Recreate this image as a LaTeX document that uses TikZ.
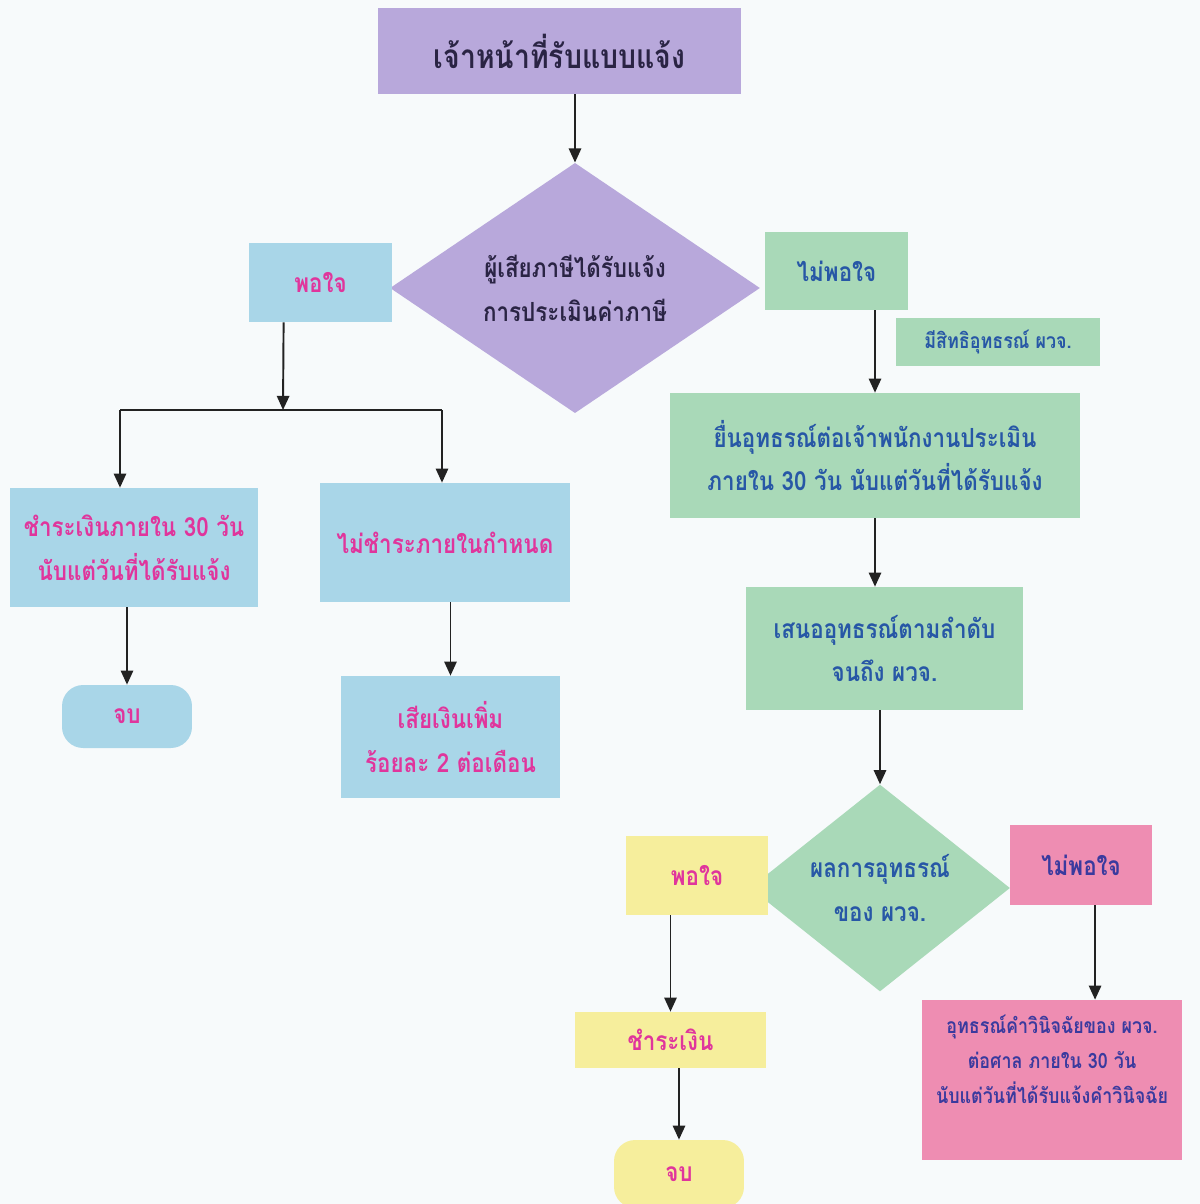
\documentclass[tikz,border=0pt]{standalone}
\usepackage{fontspec}
\newfontfamily\thaifont[Script=Thai,FakeStretch=0.85]{Loma}
\usetikzlibrary{shapes.geometric,arrows.meta}

\definecolor{paper}{HTML}{F7FAFB}
\definecolor{lavender}{HTML}{B8A8DB}
\definecolor{skyblue}{HTML}{A9D6E8}
\definecolor{mint}{HTML}{A9D9B8}
\definecolor{lemon}{HTML}{F6EE9C}
\definecolor{rose}{HTML}{EE8DB2}
\definecolor{inkpink}{HTML}{E0359C}
\definecolor{inkblue}{HTML}{2757A6}
\definecolor{inkdark}{HTML}{2A2444}
\definecolor{inkviolet}{HTML}{3A3A9E}
\definecolor{wire}{HTML}{222222}

\begin{document}
\begin{tikzpicture}[x=0.02cm,y=-0.02cm,>={Triangle[width=7pt,length=8pt]}]
        \tikzstyle{box}=[rectangle,inner sep=2pt,align=center,font={\thaifont\bfseries\fontsize{15}{25}\selectfont}]
        \tikzstyle{small}=[box,font={\thaifont\bfseries\fontsize{12}{20}\selectfont}]
        \tikzstyle{decision}=[diamond,inner sep=0pt,align=center,font={\thaifont\bfseries\fontsize{15}{25}\selectfont}]
        \tikzstyle{terminal}=[box,rounded corners=12pt]
        \tikzstyle{link}=[line width=1.1pt,draw=wire]
        \fill[paper] (0,0) rectangle (1200,1204);
        \useasboundingbox (0,0) rectangle (1200,1204);

        \node[box,fill=lavender,text=inkdark,minimum width=7.26cm,minimum height=1.72cm,font={\thaifont\bfseries\fontsize{19}{25}\selectfont}] (staff) at (559.5,51) {เจ้าหน้าที่รับแบบแจ้ง};
        \node[decision,fill=lavender,text=inkdark,minimum width=7.4cm,minimum height=4.7cm] (notice) at (575,288) {ผู้เสียภาษีได้รับแจ้ง\\การประเมินค่าภาษี};

        % left branch
        \node[box,fill=skyblue,text=inkpink,minimum width=2.86cm,minimum height=1.58cm] (satisfied) at (320.5,282.5) {พอใจ};
        \node[box,fill=skyblue,text=inkpink,minimum width=4.96cm,minimum height=2.38cm] (paywithin) at (134,547.5) {ชำระเงินภายใน 30 วัน\\นับแต่วันที่ได้รับแจ้ง};
        \node[box,fill=skyblue,text=inkpink,minimum width=5cm,minimum height=2.38cm] (nopay) at (445,542.5) {ไม่ชำระภายในกำหนด};
        \node[terminal,fill=skyblue,text=inkpink,minimum width=2.6cm,minimum height=1.26cm] (endleft) at (127,716.5) {จบ};
        \node[box,fill=skyblue,text=inkpink,minimum width=4.38cm,minimum height=2.44cm] (surcharge) at (450.5,737) {เสียเงินเพิ่ม\\ร้อยละ 2 ต่อเดือน};

        % right branch
        \node[box,fill=mint,text=inkblue,minimum width=2.86cm,minimum height=1.56cm] (unsatisfied) at (836.5,271) {ไม่พอใจ};
        \node[small,fill=mint,text=inkblue,minimum width=4.08cm,minimum height=0.96cm] (entitled) at (998,342) {มีสิทธิอุทธรณ์ ผวจ.};
        \node[box,fill=mint,text=inkblue,minimum width=8.2cm,minimum height=2.5cm] (appeal) at (875,455.5) {ยื่นอุทธรณ์ต่อเจ้าพนักงานประเมิน\\ภายใน 30 วัน นับแต่วันที่ได้รับแจ้ง};
        \node[box,fill=mint,text=inkblue,minimum width=5.54cm,minimum height=2.46cm] (forward) at (884.5,648.5) {เสนออุทธรณ์ตามลำดับ\\จนถึง ผวจ.};
        \node[decision,fill=mint,text=inkblue,minimum width=5.2cm,minimum height=3.9cm] (result) at (880,888) {ผลการอุทธรณ์\\ของ ผวจ.};
        \node[box,fill=lemon,text=inkpink,minimum width=2.84cm,minimum height=1.58cm] (accept) at (697,875.5) {พอใจ};
        \node[box,fill=rose,text=inkviolet,minimum width=2.84cm,minimum height=1.6cm] (reject) at (1081,865) {ไม่พอใจ};
        \node[box,fill=lemon,text=inkpink,minimum width=3.82cm,minimum height=1.12cm] (pay) at (670.5,1040) {ชำระเงิน};
        \node[terminal,fill=lemon,text=inkpink,minimum width=2.6cm,minimum height=1.36cm] (endright) at (679,1174) {จบ};
        \node[small,fill=rose,text=inkviolet,minimum width=5.2cm,minimum height=3.2cm] (court) at (1052,1080) {อุทธรณ์คำวินิจฉัยของ ผวจ.\\ต่อศาล ภายใน 30 วัน\\นับแต่วันที่ได้รับแจ้งคำวินิจฉัย\\[4pt]};

        \coordinate (split) at (283,410);
        \coordinate (splitl) at (120,410);
        \coordinate (splitr) at (442,410);

        \draw[link,->] (staff.south -| notice.north) -- (notice.north);
        \draw[link,->] ([xshift=-21pt]satisfied.south) -- (split);
        \draw[link] (splitl) -- (splitr);
        \draw[link,->] (splitl) -- (splitl |- paywithin.north);
        \draw[link,->] (splitr) -- (splitr |- nopay.north);
        \draw[link,->] (paywithin.south -| endleft.north) -- (endleft.north);
        \draw[link,->] (nopay.south -| surcharge.north) -- (surcharge.north);

        \draw[link,->] (unsatisfied.south -| appeal.north) -- (appeal.north);
        \draw[link,->] (appeal.south) -- (appeal.south |- forward.north);
        \draw[link,->] (forward.south -| result.north) -- (result.north);
        \draw[link,->] (accept.south -| pay.north) -- (pay.north);
        \draw[link,->] (pay.south -| endright.north) -- (endright.north);
        \draw[link,->] ([xshift=8pt]reject.south) -- ([xshift=8pt]reject.south |- court.north);
    \end{tikzpicture}
\end{document}
